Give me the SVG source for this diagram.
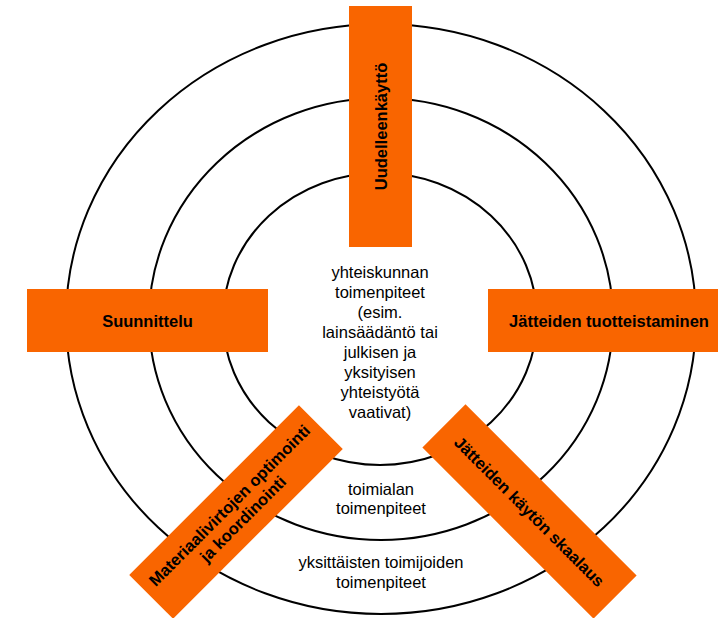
<svg xmlns="http://www.w3.org/2000/svg" width="718" height="618" viewBox="0 0 718 618">
<style>
.ring{fill:none;stroke:#000;stroke-width:2}
.box{fill:#F96500}
.lbl{font-family:"Liberation Sans",Arial,sans-serif;font-size:16.5px;font-weight:bold;fill:#000;text-anchor:middle}
.txt{font-family:"Liberation Sans",Arial,sans-serif;font-size:16.5px;fill:#000;text-anchor:middle}
</style>
<rect width="718" height="618" fill="#fff"/>
<g id="rings">
<ellipse class="ring" cx="381" cy="319" rx="315" ry="295"/>
<ellipse class="ring" cx="381" cy="319" rx="232" ry="221"/>
<ellipse class="ring" cx="380" cy="319" rx="157" ry="146"/>
</g>
<g id="ring-labels">
<text class="txt" x="380" y="278">yhteiskunnan</text>
<text class="txt" x="380" y="298">toimenpiteet</text>
<text class="txt" x="380" y="318">(esim.</text>
<text class="txt" x="380" y="338">lainsäädäntö tai</text>
<text class="txt" x="380" y="358">julkisen ja</text>
<text class="txt" x="380" y="378">yksityisen</text>
<text class="txt" x="380" y="398">yhteistyötä</text>
<text class="txt" x="380" y="418">vaativat)</text>
<text class="txt" x="381" y="495">toimialan</text>
<text class="txt" x="381" y="514">toimenpiteet</text>
<text class="txt" x="381" y="568">yksittäisten toimijoiden</text>
<text class="txt" x="381" y="588">toimenpiteet</text>
</g>
<g id="uudelleenkaytto">
<rect class="box" x="349" y="6" width="63" height="241"/>
<text class="lbl" transform="translate(381,126.5) rotate(-90)" y="6">Uudelleenkäyttö</text>
</g>
<g id="suunnittelu">
<rect class="box" x="27" y="289" width="241" height="63"/>
<text class="lbl" x="147.5" y="327">Suunnittelu</text>
</g>
<g id="tuotteistaminen">
<rect class="box" x="488" y="289" width="242" height="63"/>
<text class="lbl" x="609" y="327">Jätteiden tuotteistaminen</text>
</g>
<g id="materiaalivirrat" transform="translate(236,512) rotate(-45)">
<rect class="box" x="-120" y="-31" width="240" height="62"/>
<text class="lbl" y="-3.5">Materiaalivirtojen optimointi</text>
<text class="lbl" y="15.5">ja koordinointi</text>
</g>
<g id="skaalaus" transform="translate(529.5,511.5) rotate(45)">
<rect class="box" x="-121" y="-30.5" width="242" height="61"/>
<text class="lbl" y="6">Jätteiden käytön skaalaus</text>
</g>
<g id="connectors"/>
</svg>
